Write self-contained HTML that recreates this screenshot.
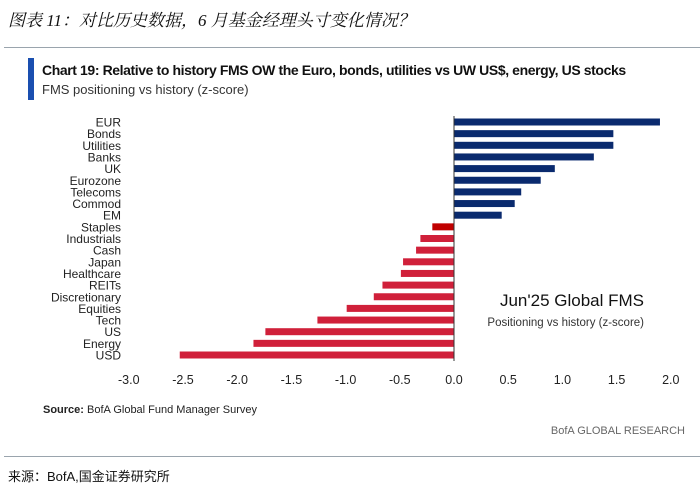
<!DOCTYPE html>
<html><head><meta charset="utf-8"><style>
body{margin:0;background:#fff;width:700px;height:494px;overflow:hidden;position:relative;font-family:"Liberation Sans","Noto Sans CJK SC",sans-serif}
.abs{position:absolute;white-space:nowrap}
</style></head><body>
<div class="abs" style="left:8px;top:6px;font-size:17px;font-style:italic;color:#111;font-family:'Liberation Serif','Noto Serif CJK SC',serif">图表 11：对比历史数据，6 月基金经理头寸变化情况？</div>
<div class="abs" style="left:4px;top:47px;width:696px;height:1px;background:#9aa4ad"></div>
<div class="abs" style="left:28px;top:58px;width:6px;height:42px;background:#1a4fb0"></div>
<div class="abs" style="left:42px;top:62px;font-size:14px;font-weight:bold;color:#111;letter-spacing:-0.4px">Chart 19: Relative to history FMS OW the Euro, bonds, utilities vs UW US$, energy, US stocks</div>
<div class="abs" style="left:42px;top:82px;font-size:13px;color:#333">FMS positioning vs history (z-score)</div>
<svg class="abs" style="left:0;top:0" width="700" height="494" id="chart"></svg>
<div class="abs" style="left:43px;top:404px;font-size:11px;color:#222"><b>Source:</b> BofA Global Fund Manager Survey</div>
<div class="abs" style="right:15px;top:425px;font-size:11px;color:#666">BofA GLOBAL RESEARCH</div>
<div class="abs" style="left:4px;top:456px;width:696px;height:1px;background:#9aa4ad"></div>
<div class="abs" style="left:8px;top:466px;font-size:13px;color:#111">来源：BofA,国金证券研究所</div>
<script>
const categories=["EUR","Bonds","Utilities","Banks","UK","Eurozone","Telecoms","Commod","EM","Staples","Industrials","Cash","Japan","Healthcare","REITs","Discretionary","Equities","Tech","US","Energy","USD"];
const values=[1.90,1.47,1.47,1.29,0.93,0.80,0.62,0.56,0.44,-0.20,-0.31,-0.35,-0.47,-0.49,-0.66,-0.74,-0.99,-1.26,-1.74,-1.85,-2.53];
const ticks=[-3.0,-2.5,-2.0,-1.5,-1.0,-0.5,0.0,0.5,1.0,1.5,2.0];
const NS="http://www.w3.org/2000/svg";
const svg=document.getElementById('chart');
const x=v=>454+v*108.4;
const y=i=>122+i*11.65;
function mk(t,a){const e=document.createElementNS(NS,t);for(const k in a)e.setAttribute(k,a[k]);svg.appendChild(e);return e;}
categories.forEach((c,i)=>{
  const v=values[i];
  const r=mk('rect',{x:Math.min(x(0),x(v)),y:y(i)-3.5,width:Math.abs(x(v)-x(0)),height:7,fill:v>=0?'#0a2a6e':(i==9?'#c00000':'#d0203a')});
  
  
  const t=mk('text',{x:121,y:y(i)+4.5,'text-anchor':'end','font-size':12,fill:'#222','font-family':'Liberation Sans, sans-serif'});
  t.textContent=c;
  
  
});
const ax=mk('line',{x1:x(0),x2:x(0),y1:116,y2:361,stroke:'#333','stroke-width':1});


ticks.forEach(v=>{
  const t=mk('text',{x:x(v),y:384,'text-anchor':'middle','font-size':12.5,fill:'#222','font-family':'Liberation Sans, sans-serif'});
  t.textContent=v.toFixed(1);
  
  
});
const a=mk('text',{x:644,y:306,'text-anchor':'end','font-size':17,fill:'#111','font-family':'Liberation Sans, sans-serif'});
a.textContent="Jun'25 Global FMS";


const b=mk('text',{x:644,y:326,'text-anchor':'end','font-size':11.5,fill:'#333','font-family':'Liberation Sans, sans-serif'});
b.textContent="Positioning vs history (z-score)";


</script>
</body></html>
